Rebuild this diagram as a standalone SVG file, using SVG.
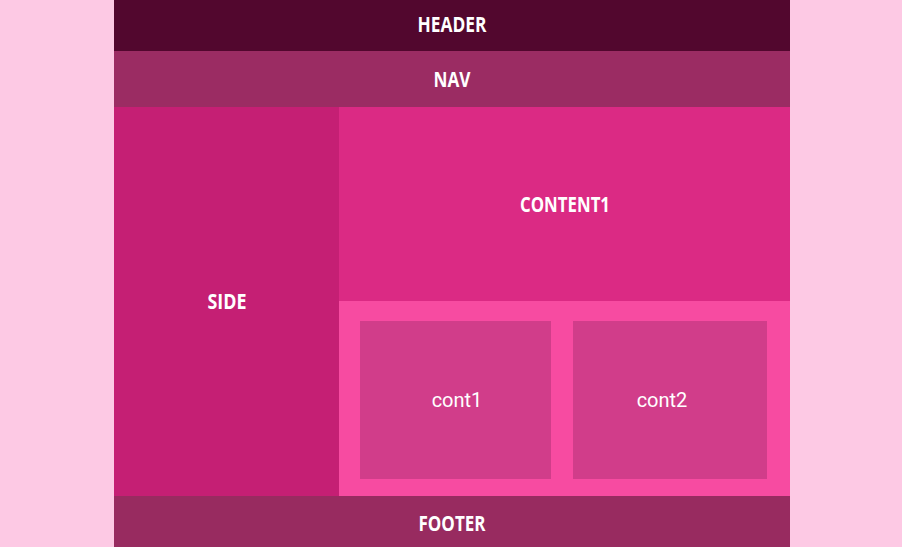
<svg xmlns="http://www.w3.org/2000/svg" width="902" height="547" viewBox="0 0 902 547">
<style>
.t{font-family:"Open Sans","Liberation Sans",sans-serif;font-weight:bold;font-size:21px;fill:#ffffff;text-anchor:middle}
.s{font-family:Roboto,"Liberation Sans",sans-serif;font-size:20px;fill:#ffffff;text-anchor:middle}
</style>
<rect x="0" y="0" width="902" height="547" fill="#fdc9e4"/>
<g id="header"><rect x="114" y="0" width="676" height="51" fill="#52072e"/><text class="t" x="452" y="32" textLength="69" lengthAdjust="spacingAndGlyphs">HEADER</text></g>
<g id="nav"><rect x="114" y="51" width="676" height="56" fill="#9b2c63"/><text class="t" x="452" y="87" textLength="37" lengthAdjust="spacingAndGlyphs">NAV</text></g>
<g id="side"><rect x="114" y="107" width="225" height="389" fill="#c51f74"/><text class="t" x="227" y="309" textLength="39" lengthAdjust="spacingAndGlyphs">SIDE</text></g>
<g id="content1"><rect x="339" y="107" width="451" height="194" fill="#db2a84"/><text class="t" x="565" y="212" textLength="90" lengthAdjust="spacingAndGlyphs">CONTENT1</text></g>
<g id="content2"><rect x="339" y="301" width="451" height="195" fill="#f74ba1"/></g>
<g id="cont1"><rect x="360" y="321" width="191" height="158" fill="#d13d8a"/><text class="s" x="457" y="407">cont1</text></g>
<g id="cont2"><rect x="573" y="321" width="194" height="158" fill="#d13d8a"/><text class="s" x="662" y="407">cont2</text></g>
<g id="footer"><rect x="114" y="496" width="676" height="51" fill="#982b60"/><text class="t" x="452" y="531" textLength="67" lengthAdjust="spacingAndGlyphs">FOOTER</text></g>
<g id="connectors"/>
</svg>
